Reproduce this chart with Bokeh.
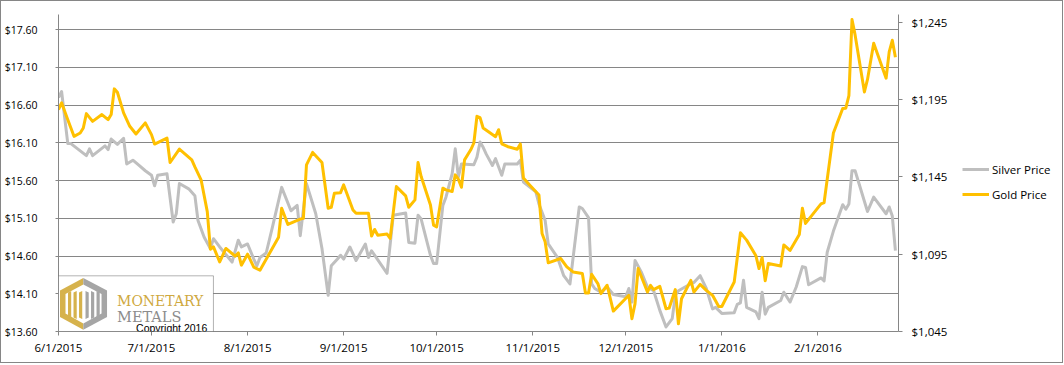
import pandas as pd
from bokeh.plotting import figure
from bokeh.layouts import row
from bokeh.models import (Range1d, LinearAxis, FixedTicker, NumeralTickFormatter,
                          CustomJSTickFormatter, Legend, LegendItem, BoxAnnotation,
                          PolyAnnotation, Label, ColumnDataSource)
from bokeh.embed import file_html
from bokeh.resources import INLINE

# ---------------- data ----------------
silver_dates = [
    "2015-06-01", "2015-06-02", "2015-06-04", "2015-06-05", "2015-06-10", "2015-06-11", "2015-06-12", "2015-06-16",
    "2015-06-17", "2015-06-18", "2015-06-20", "2015-06-22", "2015-06-23", "2015-06-25", "2015-06-27", "2015-06-29",
    "2015-07-01", "2015-07-02", "2015-07-03", "2015-07-06", "2015-07-08", "2015-07-09", "2015-07-10", "2015-07-13",
    "2015-07-15", "2015-07-16", "2015-07-18", "2015-07-20", "2015-07-21", "2015-07-23", "2015-07-27", "2015-07-29",
    "2015-07-30",
    "2015-08-01", "2015-08-03", "2015-08-04", "2015-08-05", "2015-08-07", "2015-08-09", "2015-08-12", "2015-08-15",
    "2015-08-17", "2015-08-18", "2015-08-20", "2015-08-23", "2015-08-25", "2015-08-27", "2015-08-28", "2015-08-30",
    "2015-08-31",
    "2015-09-01", "2015-09-03", "2015-09-05", "2015-09-08", "2015-09-09", "2015-09-10", "2015-09-15", "2015-09-17",
    "2015-09-21", "2015-09-22", "2015-09-24", "2015-09-25", "2015-09-26", "2015-09-29", "2015-09-30",
    "2015-10-01", "2015-10-03", "2015-10-04", "2015-10-06", "2015-10-07", "2015-10-08", "2015-10-09", "2015-10-13",
    "2015-10-14", "2015-10-15", "2015-10-16", "2015-10-17", "2015-10-19", "2015-10-20", "2015-10-22", "2015-10-23",
    "2015-10-27", "2015-10-28", "2015-10-29",
    "2015-11-02", "2015-11-03", "2015-11-05", "2015-11-06", "2015-11-09", "2015-11-11", "2015-11-13", "2015-11-16",
    "2015-11-17", "2015-11-19", "2015-11-20", "2015-11-21", "2015-11-23", "2015-11-25", "2015-11-27",
    "2015-12-01", "2015-12-02", "2015-12-03", "2015-12-04", "2015-12-06", "2015-12-08", "2015-12-10", "2015-12-12",
    "2015-12-14", "2015-12-16", "2015-12-17", "2015-12-18", "2015-12-21", "2015-12-23", "2015-12-25", "2015-12-27",
    "2015-12-29", "2015-12-30",
    "2016-01-01", "2016-01-05", "2016-01-06", "2016-01-07", "2016-01-08", "2016-01-09", "2016-01-12", "2016-01-13",
    "2016-01-14", "2016-01-15", "2016-01-16", "2016-01-20", "2016-01-21", "2016-01-23", "2016-01-25", "2016-01-27",
    "2016-01-28", "2016-01-29",
    "2016-02-02", "2016-02-03", "2016-02-04", "2016-02-06", "2016-02-09", "2016-02-10", "2016-02-11", "2016-02-12",
    "2016-02-13", "2016-02-17", "2016-02-19", "2016-02-23", "2016-02-24", "2016-02-25", "2016-02-26",
]
silver_price = [
    16.70, 16.78, 16.09, 16.09, 15.93, 16.02, 15.93, 16.06, 16.01, 16.15, 16.08, 16.16, 15.82, 15.87, 15.80, 15.73,
    15.67, 15.53, 15.67, 15.69, 15.05, 15.16, 15.56, 15.49, 15.40, 15.07, 14.85, 14.70, 14.83, 14.72, 14.52, 14.81,
    14.72,
    14.76, 14.56, 14.47, 14.58, 14.64, 14.98, 15.51, 15.20, 15.27, 14.87, 15.56, 15.16, 14.70, 14.08, 14.47, 14.56,
    14.61,
    14.56, 14.72, 14.54, 14.76, 14.58, 14.67, 14.37, 15.14, 15.17, 14.78, 14.77, 15.14, 15.09, 14.61, 14.50,
    14.50, 15.27, 15.38, 15.69, 16.02, 15.65, 15.82, 15.81, 15.91, 16.11, 16.04, 15.95, 15.80, 15.89, 15.67, 15.82,
    15.82, 15.87, 15.58,
    15.45, 15.29, 15.07, 14.76, 14.58, 14.34, 14.23, 15.25, 15.23, 15.11, 14.23, 14.17, 14.12, 14.19, 14.09,
    14.06, 14.17, 13.99, 14.54, 14.39, 14.19, 14.14, 13.88, 13.66, 13.77, 14.08, 14.14, 14.21, 14.25, 14.34, 14.17,
    13.90, 13.92,
    13.84, 13.85, 13.96, 13.98, 14.28, 13.92, 13.86, 13.77, 14.12, 13.83, 13.92, 14.01, 14.12, 13.99, 14.19, 14.46,
    14.45, 14.22,
    14.31, 14.27, 14.65, 14.93, 15.28, 15.22, 15.29, 15.73, 15.73, 15.19, 15.38, 15.16, 15.25, 15.13, 14.67,
]

gold_dates = [
    "2015-06-01", "2015-06-02", "2015-06-04", "2015-06-06", "2015-06-08", "2015-06-09", "2015-06-10", "2015-06-12",
    "2015-06-15", "2015-06-17", "2015-06-18", "2015-06-19", "2015-06-20", "2015-06-22", "2015-06-24", "2015-06-26",
    "2015-06-29",
    "2015-07-01", "2015-07-02", "2015-07-06", "2015-07-07", "2015-07-10", "2015-07-14", "2015-07-15", "2015-07-17",
    "2015-07-19", "2015-07-20", "2015-07-21", "2015-07-23", "2015-07-25", "2015-07-28", "2015-07-29", "2015-07-30",
    "2015-08-01", "2015-08-03", "2015-08-05", "2015-08-11", "2015-08-12", "2015-08-14", "2015-08-18", "2015-08-19",
    "2015-08-20", "2015-08-22", "2015-08-25", "2015-08-27", "2015-08-28", "2015-08-29", "2015-08-31",
    "2015-09-01", "2015-09-02", "2015-09-04", "2015-09-05", "2015-09-09", "2015-09-10", "2015-09-11", "2015-09-12",
    "2015-09-15", "2015-09-16", "2015-09-18", "2015-09-21", "2015-09-22", "2015-09-24", "2015-09-25", "2015-09-26",
    "2015-09-29", "2015-09-30",
    "2015-10-01", "2015-10-03", "2015-10-04", "2015-10-06", "2015-10-07", "2015-10-08", "2015-10-09", "2015-10-10",
    "2015-10-12", "2015-10-13", "2015-10-14", "2015-10-15", "2015-10-16", "2015-10-20", "2015-10-21", "2015-10-22",
    "2015-10-24", "2015-10-27", "2015-10-28", "2015-10-29", "2015-10-31",
    "2015-11-03", "2015-11-04", "2015-11-05", "2015-11-06", "2015-11-10", "2015-11-12", "2015-11-14", "2015-11-17",
    "2015-11-18", "2015-11-19", "2015-11-20", "2015-11-22", "2015-11-23", "2015-11-25", "2015-11-27",
    "2015-12-02", "2015-12-03", "2015-12-04", "2015-12-05", "2015-12-08", "2015-12-09", "2015-12-10", "2015-12-12",
    "2015-12-14", "2015-12-15", "2015-12-17", "2015-12-18", "2015-12-19", "2015-12-22", "2015-12-23", "2015-12-25",
    "2015-12-27", "2015-12-29", "2015-12-31",
    "2016-01-01", "2016-01-05", "2016-01-07", "2016-01-09", "2016-01-12", "2016-01-13", "2016-01-14", "2016-01-15",
    "2016-01-16", "2016-01-20", "2016-01-21", "2016-01-23", "2016-01-26", "2016-01-27", "2016-01-28",
    "2016-02-02", "2016-02-03", "2016-02-06", "2016-02-09", "2016-02-10", "2016-02-11", "2016-02-12", "2016-02-13",
    "2016-02-16", "2016-02-17", "2016-02-19", "2016-02-23", "2016-02-24", "2016-02-25", "2016-02-26",
]
gold_price = [
    1188.5, 1192.9, 1182.0, 1171.2, 1173.4, 1176.6, 1185.9, 1180.9, 1185.3, 1182.0, 1185.3, 1201.9, 1199.7, 1186.4,
    1177.7, 1172.7, 1179.9,
    1172.3, 1166.2, 1170.1, 1154.3, 1163.0, 1156.0, 1151.5, 1143.1, 1122.5, 1098.2, 1099.7, 1090.0, 1098.7, 1093.7,
    1095.8, 1087.9,
    1095.0, 1086.6, 1084.6, 1106.0, 1124.7, 1114.2, 1117.7, 1118.2, 1152.8, 1160.8, 1154.3, 1124.7, 1125.3, 1134.4,
    1134.8,
    1139.8, 1134.4, 1123.6, 1121.4, 1121.4, 1106.7, 1111.0, 1107.3, 1108.0, 1105.2, 1138.7, 1132.7, 1125.3, 1130.1,
    1154.3, 1145.2, 1126.8, 1113.8,
    1112.7, 1137.7, 1136.6, 1135.5, 1146.3, 1143.5, 1138.3, 1156.0, 1162.5, 1166.9, 1184.2, 1183.3, 1176.6, 1171.0,
    1175.5, 1166.4, 1164.5, 1162.9, 1166.3, 1144.2, 1139.8,
    1133.3, 1108.4, 1103.0, 1089.4, 1092.2, 1086.8, 1083.5, 1082.5, 1069.9, 1069.9, 1082.0, 1076.0, 1069.5, 1074.9,
    1058.2,
    1068.4, 1053.2, 1063.0, 1085.7, 1070.5, 1074.9, 1072.1, 1074.2, 1059.7, 1060.1, 1072.1, 1050.0, 1066.2, 1078.1,
    1070.5, 1075.5, 1071.6, 1068.4, 1061.2,
    1061.2, 1077.0, 1108.8, 1104.1, 1094.0, 1085.7, 1092.9, 1077.8, 1089.0, 1087.3, 1101.0, 1097.4, 1107.7, 1124.7,
    1114.9,
    1127.5, 1128.4, 1173.4, 1189.2, 1189.4, 1197.5, 1246.8, 1236.8, 1199.9, 1208.0, 1231.4, 1208.8, 1225.8, 1233.3,
    1222.4,
]

month_ticks = ["2015-06-01", "2015-07-01", "2015-08-01", "2015-09-01", "2015-10-01",
               "2015-11-01", "2015-12-01", "2016-01-01", "2016-02-01"]
silver_ticks = [13.60, 14.10, 14.60, 15.10, 15.60, 16.10, 16.60, 17.10, 17.60]
gold_ticks = [1045, 1095, 1145, 1195, 1245]
series_names = ["Silver Price", "Gold Price"]


def ms(s):
    return pd.Timestamp(s).value / 1e6


GRID = "#868686"
SILVER = "#BFBFBF"
GOLD = "#FFC000"
FONT = "Open Sans"

MAIN_W, LEG_W, H = 960, 101, 361

p = figure(width=MAIN_W, height=H, x_axis_type="datetime", output_backend="svg",
           toolbar_location=None,
           x_range=Range1d(ms("2015-06-01"), ms("2016-02-27")),
           y_range=Range1d(13.6, 17.8),
           min_border_left=57, min_border_right=MAIN_W - 897, min_border_top=13, min_border_bottom=31,
           background_fill_color="white", border_fill_color="white")
p.outline_line_color = None
p.extra_y_ranges = {"gold": Range1d(1045, 1250)}

# x axis
xt = FixedTicker(ticks=[ms(d) for d in month_ticks])
p.xaxis.ticker = xt
p.xaxis.formatter = CustomJSTickFormatter(code="""
const d = new Date(tick);
return (d.getUTCMonth() + 1) + "/" + d.getUTCDate() + "/" + d.getUTCFullYear();
""")
p.xgrid.visible = False

# left axis
yt = FixedTicker(ticks=silver_ticks)
p.yaxis.ticker = yt
p.yaxis.formatter = NumeralTickFormatter(format="$0.00")
p.ygrid.ticker = yt
p.ygrid.grid_line_color = GRID
p.ygrid.grid_line_width = 1

for ax in (p.xaxis[0], p.yaxis[0]):
    ax.axis_line_color = GRID
    ax.major_tick_line_color = GRID
    ax.minor_tick_line_color = None
    ax.major_tick_in = 0
    ax.major_label_text_font = FONT
    ax.major_label_text_color = "black"
p.xaxis.major_tick_out = 4
p.xaxis.major_label_standoff = 4
p.xaxis.major_label_text_font_size = "11.5px"
p.yaxis.major_tick_out = 3
p.yaxis.major_label_standoff = 18
p.yaxis.major_label_text_font_size = "10.5px"

# right axis
ra = LinearAxis(y_range_name="gold", ticker=FixedTicker(ticks=gold_ticks),
                formatter=NumeralTickFormatter(format="$0,0"))
ra.axis_line_color = GRID
ra.major_tick_line_color = GRID
ra.minor_tick_line_color = None
ra.major_tick_in = 0
ra.major_tick_out = 4
ra.major_label_standoff = 9
ra.major_label_text_font = FONT
ra.major_label_text_font_size = "11.5px"
ra.major_label_text_color = "black"
p.add_layout(ra, "right")

# series
s_src = ColumnDataSource(dict(x=pd.to_datetime(silver_dates), y=silver_price))
g_src = ColumnDataSource(dict(x=pd.to_datetime(gold_dates), y=gold_price))
r_s = p.line("x", "y", source=s_src, line_color=SILVER, line_width=3, line_join="round")
r_g = p.line("x", "y", source=g_src, line_color=GOLD, line_width=3, line_join="round",
             y_range_name="gold")

# ---------------- logo (decoration) ----------------
X0 = ms("2015-06-01")


def lx(px):
    return X0 + (px - 58.5) / 3.097 * 86400000.0


def ly(py):
    return 13.6 + (331.0 - py) / 75.5


p.add_layout(BoxAnnotation(left=lx(58.5), right=lx(213.3), bottom=ly(331), top=ly(275.3),
                           fill_color="white", fill_alpha=1, line_color="black", line_width=1))


def poly(pts, color):
    p.add_layout(PolyAnnotation(xs=[lx(a) for a, b in pts], ys=[ly(b) for a, b in pts],
                                fill_color=color, fill_alpha=1, line_color=None))


LOGO_GOLD = "#D6B24C"
LOGO_GRAY = "#A5A5A5"
poly([(83.3, 277.5), (60, 290), (60, 316.5), (83.3, 329.3)], LOGO_GOLD)
poly([(83.3, 277.5), (107, 290), (107, 316.5), (83.3, 329.3)], LOGO_GRAY)
poly([(83.3, 284), (101.5, 293.5), (101.5, 313), (83.3, 323), (65.5, 313), (65.5, 293.5)], "white")
for a in (68.0, 73.5, 79.0):
    poly([(a, 292), (a + 3.2, 290.5), (a + 3.2, 318.5), (a, 317)], LOGO_GOLD)
for a in (85.5, 91.0, 96.5):
    poly([(a, 290.5), (a + 3.2, 292), (a + 3.2, 317), (a, 318.5)], LOGO_GRAY)

p.add_layout(Label(x=lx(117), y=ly(300.7), text="MONETARY", text_font="DejaVu Serif",
                   text_font_size="14px", text_color="#CFA93F", text_baseline="alphabetic"))
p.add_layout(Label(x=lx(117), y=ly(316.5), text="METALS", text_font="DejaVu Serif",
                   text_font_size="14.5px", text_color="#8C8C8C", text_baseline="alphabetic"))
p.add_layout(Label(x=lx(136), y=ly(327), text="Copyright 2016", text_font="Liberation Sans",
                   text_font_size="10.5px", text_color="black", text_baseline="alphabetic"))

# ---------------- legend panel ----------------
q = figure(width=LEG_W, height=H, output_backend="svg", toolbar_location=None,
           x_range=Range1d(0, 1), y_range=Range1d(0, 1),
           min_border_left=0, min_border_right=0, min_border_top=0, min_border_bottom=0,
           background_fill_color="white", border_fill_color="white")
q.axis.visible = False
q.grid.visible = False
q.outline_line_color = None
k_s = q.line(x=[-5, -4], y=[-5, -5], line_color=SILVER, line_width=3)
k_g = q.line(x=[-5, -4], y=[-5, -5], line_color=GOLD, line_width=3)
legend = Legend(items=[LegendItem(label=series_names[0], renderers=[k_s]),
                       LegendItem(label=series_names[1], renderers=[k_g])],
                location=(1, 127), glyph_width=27, glyph_height=20, label_standoff=3,
                padding=0, spacing=5, margin=0, border_line_color=None,
                background_fill_alpha=0, label_text_font=FONT, label_text_font_size="11.5px",
                label_text_color="black")
q.add_layout(legend)

layout = row(p, q, spacing=0, styles={"border": "1px solid #868686"})

open("out.html", "w").write(file_html(layout, INLINE))
